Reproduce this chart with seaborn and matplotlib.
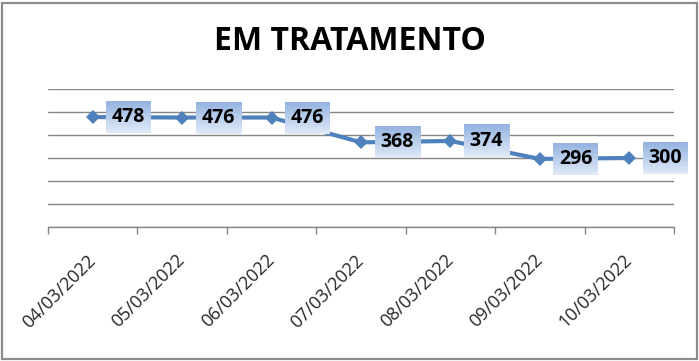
import numpy as np
import pandas as pd
import matplotlib
matplotlib.use("Agg")
import matplotlib.pyplot as plt
import seaborn as sns
from matplotlib.patches import Rectangle

# Data
DATES = ["04/03/2022", "05/03/2022", "06/03/2022", "07/03/2022",
         "08/03/2022", "09/03/2022", "10/03/2022"]
VALUES = [478, 476, 476, 368, 374, 296, 300]
TITLE = "EM TRATAMENTO"

LINE_COLOR = "#4f81bd"
GRID_COLOR = "#868686"

sns.set_style("white")
plt.rcParams["font.family"] = ["Open Sans", "DejaVu Sans"]

df = pd.DataFrame({"data": DATES, "valor": VALUES})
df["pos"] = np.arange(len(df))

fig = plt.figure(figsize=(6.99, 3.61), dpi=100)
ax = fig.add_axes([48 / 699, 1 - 227 / 361, (674 - 48) / 699, (227 - 89) / 361])

sns.lineplot(data=df, x="pos", y="valor", ax=ax, color=LINE_COLOR,
             linewidth=3, marker="D", markersize=7, markeredgewidth=0,
             zorder=3)

ax.set_xlim(-0.5, len(DATES) - 0.5)
ax.set_ylim(0, 600)
ax.set_yticks(np.arange(0, 601, 100))
ax.set_yticklabels([])
ax.tick_params(axis="y", length=0)
ax.yaxis.grid(True, color=GRID_COLOR, linewidth=1)
ax.set_axisbelow(True)
ax.set_xlabel("")
ax.set_ylabel("")

for side in ["left", "right", "top"]:
    ax.spines[side].set_visible(False)
ax.spines["bottom"].set_color(GRID_COLOR)
ax.spines["bottom"].set_linewidth(1)

# category labels at centres, tick marks on the boundaries
ax.set_xticks(df["pos"])
ax.set_xticklabels(DATES, rotation=45, ha="right", va="center",
                   rotation_mode="anchor", fontsize=13)
ax.tick_params(axis="x", which="major", length=0, pad=22)
ax.set_xticks(np.arange(-0.5, len(DATES)), minor=True)
ax.tick_params(axis="x", which="minor", bottom=True, length=5,
               color=GRID_COLOR, width=1, direction="out")

# data labels in gradient boxes, to the right of each point
fig.canvas.draw()
inv = ax.transData.inverted()
grad = np.linspace(0, 1, 64).reshape(-1, 1)
top_c = np.array([0.58, 0.70, 0.88])
bot_c = np.array([0.88, 0.92, 0.97])
img = top_c[None, None, :] * (1 - grad[..., None]) + bot_c[None, None, :] * grad[..., None]
box_w, box_h, off = 45, 32, 36
for x, y in zip(df["pos"], df["valor"]):
    px, py = ax.transData.transform((x, y))
    cx = px + off
    (x0, y0) = inv.transform((cx - box_w / 2, py - box_h / 2))
    (x1, y1) = inv.transform((cx + box_w / 2, py + box_h / 2))
    ax.imshow(img, extent=(x0, x1, y0, y1), aspect="auto", zorder=4,
              clip_on=False, interpolation="bilinear")
    ax.annotate(str(y), (x, y), xytext=(off, 0), textcoords="offset pixels",
                ha="center", va="center", fontsize=14, fontweight="bold",
                color="black", zorder=5, annotation_clip=False)
ax.set_xlim(-0.5, len(DATES) - 0.5)
ax.set_ylim(0, 600)

fig.text(0.5, 1 - 42 / 361, TITLE, ha="center", va="center",
         fontsize=23, fontweight="bold", color="black")

# chart border
fig.patches.append(Rectangle((2 / 699, 2 / 361), 695 / 699, 356 / 361,
                             transform=fig.transFigure, fill=False,
                             edgecolor="#8c8c8c", linewidth=1.6))

fig.savefig("out.png", dpi=100)
